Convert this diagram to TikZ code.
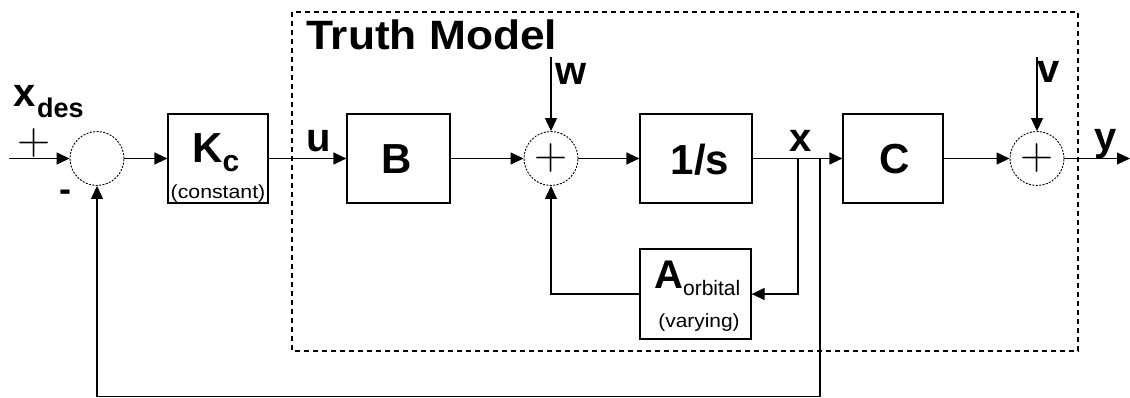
\documentclass[tikz,border=0pt]{standalone}
\usepackage{fontspec}
\setmainfont{Liberation Sans}
\newfontfamily\lmplus{Latin Modern Roman}
\usetikzlibrary{arrows.meta}
\begin{document}
\begin{tikzpicture}[x=1pt,y=-1pt,
  blk/.style={draw, line width=1.2pt, inner sep=0pt, rectangle},
  sumc/.style={draw, circle, dash pattern=on 2pt off 1.4pt, line width=0.9pt, minimum size=54pt, inner sep=0pt},
  sig/.style={line width=1.2pt},
  arr/.style={sig, -{Triangle[length=13pt,width=12pt]}},
  bigtxt/.style={font=\fontsize{42}{42}\selectfont\bfseries, inner sep=0pt},
  lbl/.style={font=\fontsize{40}{40}\selectfont\bfseries, inner sep=0pt, anchor=base west},
  small/.style={font=\fontsize{19}{19}\selectfont, inner sep=0pt, anchor=base},
  plusmark/.style={font=\fontsize{46}{46}\selectfont\lmplus, inner sep=0pt}
]
\useasboundingbox (0,0) rectangle (1130,398);

% truth model boundary
\draw[line width=1.5pt, dash pattern=on 5pt off 4pt] (292,12) rectangle (1078,351);
\node[lbl, font=\fontsize{41}{41}\selectfont\bfseries] (tm) at (306,50) {\scalebox{1.08}[1]{Truth Model}};

% blocks
\node[blk, minimum width=100pt, minimum height=89pt] (kc) at (218,158.5) {};
\node[blk, minimum width=103pt, minimum height=89pt] (b) at (398.5,158.5) {};
\node[blk, minimum width=112pt, minimum height=89pt] (int) at (696,158.5) {};
\node[blk, minimum width=100pt, minimum height=89pt] (c) at (893,158.5) {};
\node[blk, minimum width=111pt, minimum height=90pt] (a) at (695.5,294) {};

% block texts
\node[bigtxt, anchor=base west] (kctxt) at (192,163) {K\raisebox{-9pt}{\fontsize{30}{30}\selectfont c}};
\node[small] (kcsub) at (218,199) {\scalebox{1.12}[1]{(constant)}};
\node[bigtxt, anchor=base] (btxt) at (397,174) {B};
\node[bigtxt, anchor=base] (inttxt) at (700,175) {1/s};
\node[bigtxt, anchor=base] (ctxt) at (895,174) {C};
\node[inner sep=0pt, anchor=base west] (atxt) at (654,288) {{\fontsize{40}{40}\selectfont\bfseries A}\raisebox{-7pt}{\fontsize{21}{21}\selectfont orbital}};
\node[small] (asub) at (699,327) {\scalebox{1.1}[1]{(varying)}};

% summing junctions
\node[sumc] (s1) at (97,158.5) {};
\node[sumc] (s2) at (551,158.5) {};
\node[sumc] (s3) at (1037,158.5) {};
\node[plusmark] (p2) at (s2) {+};
\node[plusmark] (p3) at (s3) {+};

% coordinates
\coordinate (in) at (9,158.5);
\coordinate (out) at (1130,158.5);
\coordinate (wt) at (551,57);
\coordinate (vt) at (1037,57);
\coordinate (br1) at (798,158.5);
\coordinate (br2) at (820,158.5);
\coordinate (bl) at (97,396.5);

% signals
\draw[arr] (in) -- (s1.west);
\draw[arr] (s1.east) -- (kc.west);
\draw[arr] (kc.east) -- (b.west);
\draw[arr] (b.east) -- (s2.west);
\draw[arr] (s2.east) -- (int.west);
\draw[arr] (int.east) -- (c.west);
\draw[arr] (c.east) -- (s3.west);
\draw[arr] (s3.east) -- (out);
\draw[arr] (wt) -- (s2.north);
\draw[arr] (vt) -- (s3.north);
\draw[arr] (br1) |- (a.east);
\draw[arr] (a.west) -| (s2.south);
\draw[arr] (br2) |- (bl) -- (s1.south);

% signal labels
\node[lbl] (xd) at (13,107) {x};
\node[inner sep=0pt, anchor=base west, font=\fontsize{27}{27}\selectfont\bfseries] (des) at (37,118) {des};
\node[plusmark] (plus1) at (34,143) {+};
\node[inner sep=0pt, font=\fontsize{36}{36}\selectfont\bfseries] (minus1) at (65,196) {-};
\node[lbl] (ul) at (306,152) {u};
\node[lbl] (wl) at (555,85) {w};
\node[lbl] (xl) at (789,152) {x};
\node[lbl] (vl) at (1037,83) {v};
\node[lbl] (yl) at (1094,151) {y};
\end{tikzpicture}
\end{document}
